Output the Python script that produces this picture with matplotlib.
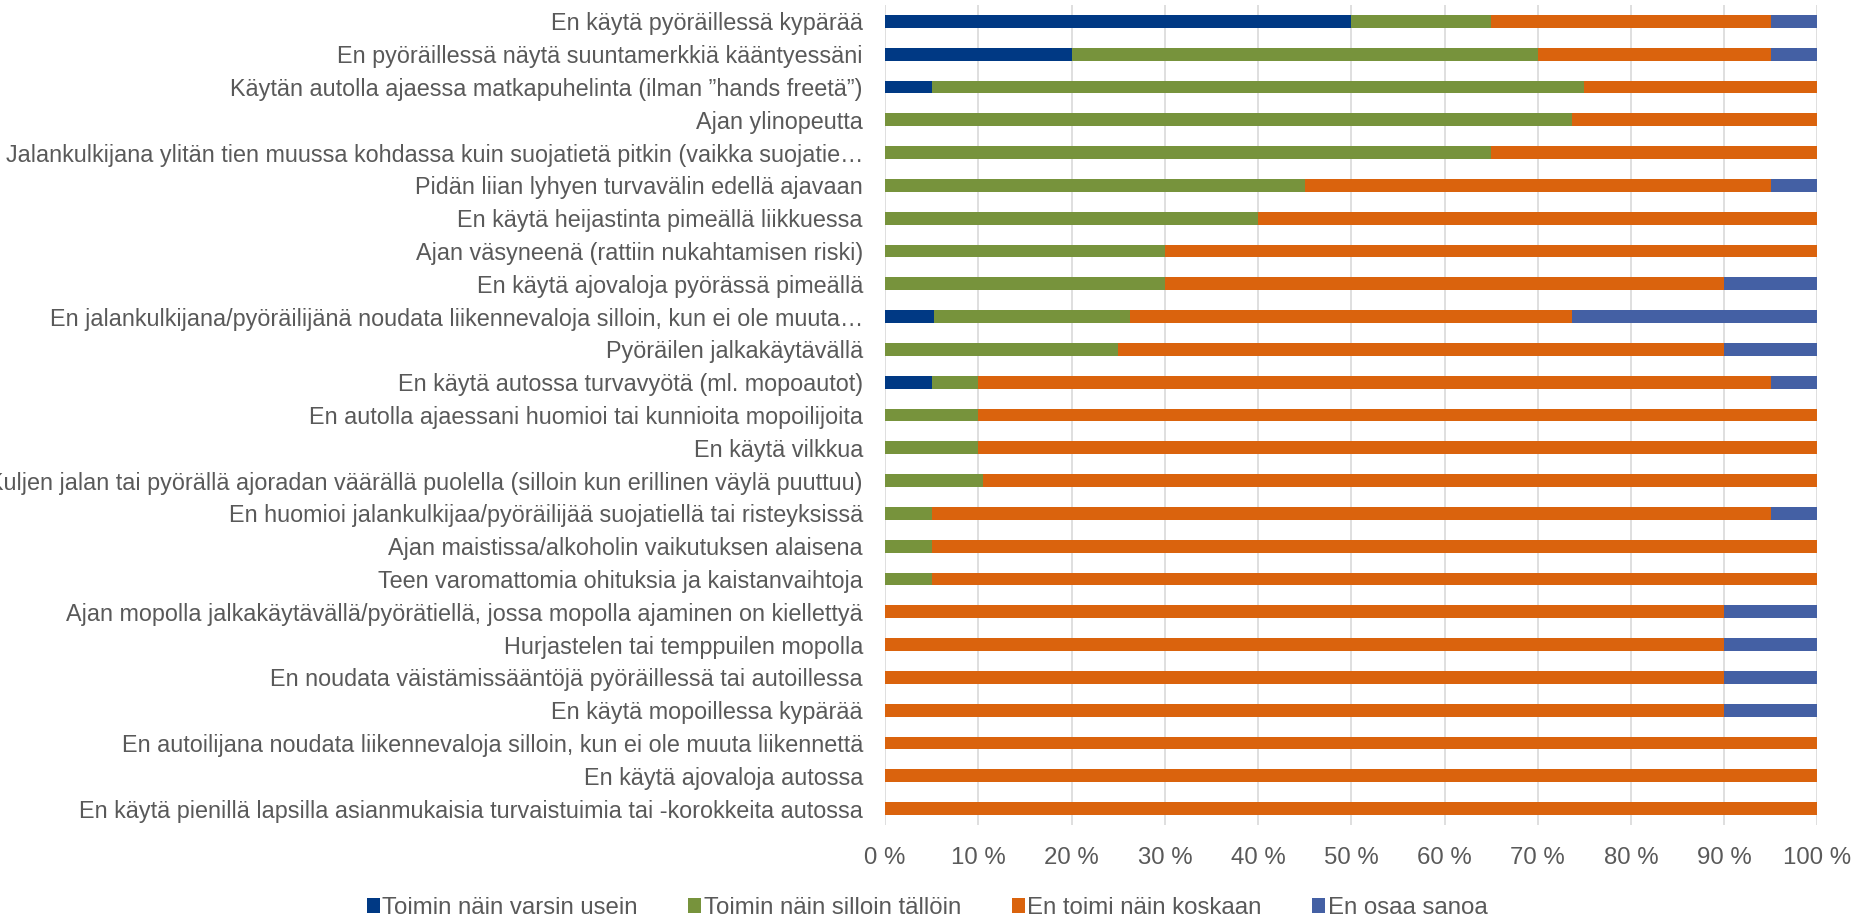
import matplotlib.pyplot as plt

label_size = 16.8
fontsize = 17.3
text_color = "#595959"

categories = [
    "En käytä pyöräillessä kypärää",
    "En pyöräillessä näytä suuntamerkkiä kääntyessäni",
    "Käytän autolla ajaessa matkapuhelinta (ilman ”hands freetä”)",
    "Ajan ylinopeutta",
    "Jalankulkijana ylitän tien muussa kohdassa kuin suojatietä pitkin (vaikka suojatie…",
    "Pidän liian lyhyen turvavälin edellä ajavaan",
    "En käytä heijastinta pimeällä liikkuessa",
    "Ajan väsyneenä (rattiin nukahtamisen riski)",
    "En käytä ajovaloja pyörässä pimeällä",
    "En jalankulkijana/pyöräilijänä noudata liikennevaloja silloin, kun ei ole muuta…",
    "Pyöräilen jalkakäytävällä",
    "En käytä autossa turvavyötä (ml. mopoautot)",
    "En autolla ajaessani huomioi tai kunnioita mopoilijoita",
    "En käytä vilkkua",
    "Kuljen jalan tai pyörällä ajoradan väärällä puolella (silloin kun erillinen väylä puuttuu)",
    "En huomioi jalankulkijaa/pyöräilijää suojatiellä tai risteyksissä",
    "Ajan maistissa/alkoholin vaikutuksen alaisena",
    "Teen varomattomia ohituksia ja kaistanvaihtoja",
    "Ajan mopolla jalkakäytävällä/pyörätiellä, jossa mopolla ajaminen on kiellettyä",
    "Hurjastelen tai temppuilen mopolla",
    "En noudata väistämissääntöjä pyöräillessä tai autoillessa",
    "En käytä mopoillessa kypärää",
    "En autoilijana noudata liikennevaloja silloin, kun ei ole muuta liikennettä",
    "En käytä ajovaloja autossa",
    "En käytä pienillä lapsilla asianmukaisia turvaistuimia tai -korokkeita autossa",
]

series_names = ["Toimin näin varsin usein", "Toimin näin silloin tällöin",
                "En toimi näin koskaan", "En osaa sanoa"]
colors = ["#003984", "#77933C", "#DA630D", "#4460A4"]

usein = [50, 20, 5, 0, 0, 0, 0, 0, 0, 5.26, 0, 5, 0,
         0, 0, 0, 0, 0, 0, 0, 0, 0, 0, 0, 0]
silloin = [15, 50, 70, 73.7, 65, 45, 40, 30, 30, 21.05, 25, 5, 10,
           10, 10.5, 5, 5, 5, 0, 0, 0, 0, 0, 0, 0]
koskaan = [30, 25, 25, 26.3, 35, 50, 60, 70, 60, 47.37, 65, 85, 90,
           90, 89.5, 90, 95, 95, 90, 90, 90, 90, 100, 100, 100]
eos = [5, 5, 0, 0, 0, 5, 0, 0, 10, 26.32, 10, 5, 0,
       0, 0, 5, 0, 0, 10, 10, 10, 10, 0, 0, 0]

plt.rcParams["font.family"] = ["Liberation Sans", "DejaVu Sans"]

fig = plt.figure(figsize=(18.54, 9.19), dpi=100)
ax = fig.add_axes([0.4774, 0.1023, 0.5029, 0.8923])

y = list(range(len(categories)))
left = [0] * len(categories)
for name, vals, col in zip(series_names, [usein, silloin, koskaan, eos], colors):
    ax.barh(y, vals, left=left, height=0.39, color=col, label=name, zorder=3)
    left = [a + b for a, b in zip(left, vals)]

ax.set_ylim(len(categories) - 0.5, -0.5)
ax.set_xlim(0, 100)
ax.set_yticks(y)
ax.set_yticklabels(categories, fontsize=label_size, color=text_color)
ax.set_xticks(range(0, 101, 10))
ax.set_xticklabels([f"{v} %" for v in range(0, 101, 10)], fontsize=fontsize, color=text_color)
ax.tick_params(axis="y", length=0, pad=16)
ax.tick_params(axis="x", length=0, pad=16)
ax.grid(axis="x", color="#D9D9D9", linewidth=1.2, zorder=0)
for s in ax.spines.values():
    s.set_visible(False)

leg = fig.legend(loc="center", bbox_to_anchor=(0.5, 0.012), ncol=4, frameon=False,
                 fontsize=fontsize, handlelength=0.55, handleheight=0.55,
                 handletextpad=0.1, columnspacing=2.1)
for t in leg.get_texts():
    t.set_color(text_color)

fig.savefig("out.png", dpi=100)
